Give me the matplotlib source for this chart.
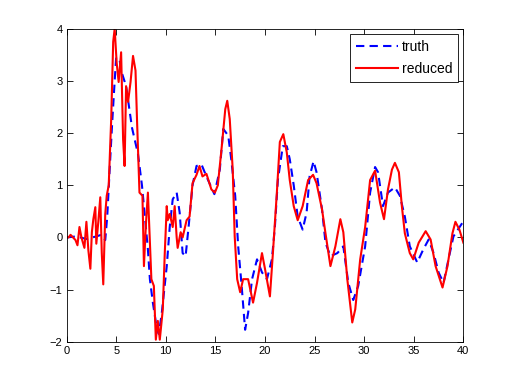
import matplotlib
matplotlib.use("Agg")
import matplotlib.pyplot as plt

# values
truth_t = [0, 1.0, 2.0, 3.0, 3.5, 3.9, 4.1, 4.4, 4.6, 4.85, 5.0, 5.35, 5.5, 6.0, 6.6, 7.2,
           7.6, 7.8, 8.2, 8.4, 8.7, 9.1, 9.3, 9.6, 10.1, 10.4, 10.7, 11.1, 11.4, 11.7,
           12.0, 12.3, 12.7, 13.1, 13.6, 14.1, 14.9, 15.45, 15.8, 16.3, 16.6, 17.0,
           17.3, 17.65, 18.0, 18.3, 18.7, 19.2, 19.7, 20.2, 20.7, 21.0, 21.3, 21.8,
           22.2, 22.5, 22.9, 23.3, 23.8, 24.2, 24.5, 24.9, 25.2, 25.75, 26.1, 26.6,
           27.3, 27.9, 28.4, 28.9, 29.4, 30.1, 30.6, 31.1, 31.4, 31.9, 32.4, 33.1,
           33.6, 34.1, 34.6, 35.35, 35.96, 36.5, 37.0, 37.5, 38.0, 38.5, 39.0, 39.9, 40]
truth_y = [0, 0.02, -0.03, 0.02, 0.05, -0.05, 0.4, 1.5, 2.2, 3.0, 3.45, 3.4, 3.2, 2.9, 2.1, 1.6,
           1.0, 0.6, -0.23, -0.8, -1.25, -1.75, -1.85, -1.45, -0.55, 0.2, 0.73, 0.86, 0.48, -0.3,
           -0.36, 0.2, 1.0, 1.37, 1.4, 1.17, 0.83, 1.3, 2.08, 1.95, 1.5, 0.8,
           -0.17, -0.93, -1.77, -1.45, -0.8, -0.42, -0.67, -0.8, -0.42, 0.2, 1.1, 1.75,
           1.75, 1.5, 1.0, 0.4, 0.15, 0.48, 1.17, 1.46, 1.25, 0.54, -0.1, -0.36,
           -0.3, -0.17, -0.87, -1.2, -0.93, -0.17, 0.86, 1.35, 1.25, 0.6, 0.86, 0.96,
           0.8, 0.4, -0.17, -0.48, -0.23, -0.04, -0.3, -0.67, -0.87, -0.42, 0.02, 0.28, 0.3]

reduced_t = [0, 0.2, 0.4, 0.9, 1.1, 1.3, 1.5, 1.8, 2.0, 2.2, 2.4, 2.55, 2.7, 2.9, 3.0, 3.2,
             3.4, 3.55, 3.7, 3.9, 4.05, 4.25, 4.5, 4.7, 4.85, 5.05, 5.25, 5.5, 5.7, 5.85,
             6.0, 6.2, 6.45, 6.7, 6.95, 7.1, 7.35, 7.65, 7.8, 8.0, 8.2, 8.55, 8.8, 9.0,
             9.2, 9.4, 9.7, 9.9, 10.1, 10.2, 10.4, 10.7, 10.9, 11.1, 11.2, 11.5, 11.7,
             12.1, 12.4, 12.7, 13.1, 13.4, 13.7, 14.1, 14.6, 14.95, 15.25, 15.65, 16.0,
             16.2, 16.45, 16.75, 16.95, 17.2, 17.5, 17.8, 18.3, 18.8, 19.2, 19.7, 20.0,
             20.5, 20.8, 21.2, 21.5, 21.85, 22.2, 22.5, 22.9, 23.3, 23.8, 24.35, 24.85,
             25.2, 25.75, 26.1, 26.6, 27.1, 27.6, 27.9, 28.3, 28.8, 29.1, 29.6, 30.1,
             30.6, 31.1, 31.6, 32.0, 32.4, 32.8, 33.1, 33.5, 33.8, 34.1, 34.6, 34.95,
             35.5, 36.2, 36.7, 37.2, 37.9, 38.4, 38.9, 39.2, 39.6, 40]
reduced_y = [0, 0, 0.05, -0.05, -0.15, 0.2, 0, -0.2, 0.3, -0.25, -0.6, 0.1, 0.35, 0.58, -0.12, 0.3,
             0.77, -0.3, -0.9, 0.45, 0.8, 1.0, 2.27, 3.75, 4.0, 3.35, 2.98, 3.55, 1.88, 1.37,
             2.9, 2.6, 2.98, 3.48, 3.2, 2.27, 0.86, 0.8, -0.55, 0.25, 0.86, -0.8, -0.93, -1.96,
             -1.6, -1.96, -1.38, -0.3, 0.6, 0.33, 0.45, 0.2, 0.6, 0.0, -0.2, 0.1, 0.0,
             0.33, 0.4, 1.04, 1.2, 1.37, 1.17, 1.22, 0.92, 0.86, 1.0, 1.75, 2.46,
             2.62, 2.27, 1.3, 0.02, -0.8, -1.05, -0.8, -0.8, -1.25, -0.87, -0.3, -0.6,
             -1.13, -0.3, 0.86, 1.83, 1.98, 1.63, 1.1, 0.6, 0.33, 0.6, 1.1, 1.2,
             1.04, 0.54, 0.08, -0.55, -0.17, 0.35, 0.1, -0.8, -1.63, -1.38, -0.42, 0.2,
             1.1, 1.28, 0.67, 0.35, 0.92, 1.3, 1.43, 1.25, 0.6, 0.08, -0.3, -0.42,
             -0.1, 0.12, -0.04, -0.55, -0.96, -0.55, 0.08, 0.3, 0.15, -0.1]

plt.rcParams['font.family'] = ['Liberation Sans', 'DejaVu Sans']
plt.rcParams['font.size'] = 8

fig = plt.figure(figsize=(5.12, 3.84), dpi=100)
ax = fig.add_axes([0.13, 0.11, 0.775, 0.815])

ax.plot(truth_t, truth_y, color='b', linewidth=1.5, linestyle=(0, (4, 2.5)), label="truth")
ax.plot(reduced_t, reduced_y, color='r', linewidth=1.5, label="reduced")

ax.set_xlim(0, 40)
ax.set_ylim(-2, 4)
ax.set_xticks(range(0, 41, 5))
ax.set_yticks(range(-2, 5))
ax.tick_params(direction='in', top=True, right=True, length=4, width=0.6, pad=3)
for s in ax.spines.values():
    s.set_linewidth(0.6)

leg = ax.legend(loc='upper right', fancybox=False, edgecolor='k', framealpha=1,
                handlelength=3.0, borderaxespad=0.4, handletextpad=0.3, fontsize=10,
                labelspacing=0.6, borderpad=0.4)
leg.get_frame().set_linewidth(0.6)

fig.savefig("out.png", dpi=100)
